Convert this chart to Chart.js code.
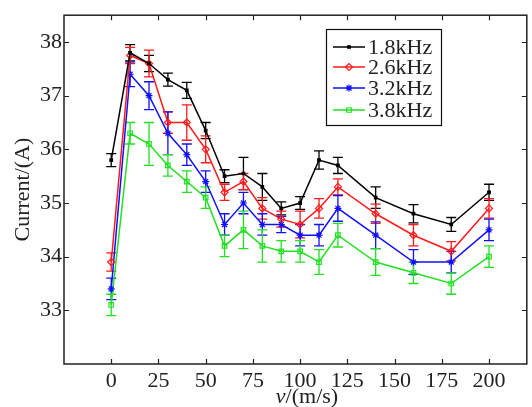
<!DOCTYPE html>
<html>
<head>
<meta charset="utf-8">
<script src="https://cdn.jsdelivr.net/npm/chart.js@4.4.1/dist/chart.umd.min.js"></script>
<style>
  html, body { margin: 0; padding: 0; background: #fff; }
  #wrap { width: 532px; height: 407px; }
</style>
</head>
<body>
<div id="wrap"><canvas id="chart" width="532" height="407"></canvas></div>
<script>
const speeds = [0, 10, 20, 30, 40, 50, 60, 70, 80, 90, 100, 110, 120, 140, 160, 180, 200];

const cur18 = [35.8, 37.8, 37.6, 37.3, 37.1, 36.35, 35.5, 35.55, 35.3, 34.9, 35.0, 35.8, 35.7, 35.1, 34.8, 34.6, 35.2];
const err18 = [0.12, 0.15, 0.15, 0.12, 0.15, 0.15, 0.12, 0.3, 0.25, 0.12, 0.12, 0.17, 0.15, 0.2, 0.17, 0.13, 0.15];

const cur26 = [33.9, 37.75, 37.6, 36.5, 36.5, 36.0, 35.2, 35.4, 34.9, 34.7, 34.6, 34.9, 35.3, 34.8, 34.4, 34.1, 34.9];
const err26 = [0.17, 0.15, 0.25, 0.2, 0.33, 0.25, 0.15, 0.15, 0.2, 0.15, 0.25, 0.18, 0.15, 0.18, 0.2, 0.18, 0.18];

const cur32 = [33.4, 37.4, 37.0, 36.3, 35.9, 35.4, 34.6, 35.0, 34.6, 34.6, 34.4, 34.4, 34.9, 34.4, 33.9, 33.9, 34.5];
const err32 = [0.2, 0.23, 0.26, 0.4, 0.2, 0.2, 0.2, 0.2, 0.2, 0.15, 0.2, 0.2, 0.24, 0.25, 0.23, 0.2, 0.2];

const cur38 = [33.1, 36.3, 36.1, 35.7, 35.4, 35.1, 34.2, 34.5, 34.2, 34.1, 34.1, 33.9, 34.4, 33.9, 33.7, 33.5, 34.0];
const err38 = [0.2, 0.2, 0.4, 0.2, 0.2, 0.2, 0.2, 0.35, 0.3, 0.2, 0.2, 0.23, 0.22, 0.25, 0.2, 0.2, 0.2];

const seriesNames = ["1.8kHz", "2.6kHz", "3.2kHz", "3.8kHz"];
const xTicks = [0, 25, 50, 75, 100, 125, 150, 175, 200];
const yTicks = [33, 34, 35, 36, 37, 38];

const FONT = "'Liberation Serif', 'Times New Roman', serif";

function pts(ys) {
  return speeds.map((x, i) => ({ x: x, y: ys[i] }));
}

function series(label, ys, errs, color, style, radius, fill) {
  return {
    label: label,
    data: pts(ys),
    errs: errs,
    borderColor: color,
    backgroundColor: fill,
    pointBackgroundColor: fill,
    pointBorderColor: color,
    pointStyle: style,
    pointRadius: radius,
    pointBorderWidth: 1.2,
    borderWidth: 1.5,
    tension: 0,
    clip: false
  };
}

const datasets = [
  series(seriesNames[0], cur18, err18, "#000000", "rect", 1.8, "#000000"),
  series(seriesNames[1], cur26, err26, "#ff1a1a", "rectRot", 3.5, "rgba(255,255,255,0)"),
  series(seriesNames[2], cur32, err32, "#1010ff", "star", 3.5, "#1010ff"),
  series(seriesNames[3], cur38, err38, "#22e022", "rect", 3.2, "rgba(255,255,255,0)")
];

// error bars under the markers
const errorBars = {
  id: "errorBars",
  beforeDatasetsDraw(chart) {
    const ctx = chart.ctx;
    const xs = chart.scales.x, ys = chart.scales.y;
    ctx.save();
    chart.data.datasets.forEach(ds => {
      ctx.strokeStyle = ds.borderColor;
      ctx.lineWidth = 1.3;
      ds.data.forEach((p, i) => {
        const e = ds.errs[i];
        const px = xs.getPixelForValue(p.x);
        const top = ys.getPixelForValue(p.y + e);
        const bot = ys.getPixelForValue(p.y - e);
        ctx.beginPath();
        ctx.moveTo(px, top); ctx.lineTo(px, bot);
        ctx.moveTo(px - 5, top); ctx.lineTo(px + 5, top);
        ctx.moveTo(px - 5, bot); ctx.lineTo(px + 5, bot);
        ctx.stroke();
      });
    });
    ctx.restore();
  }
};

// box frame, inward ticks, x title, legend
const frame = {
  id: "frame",
  afterDraw(chart) {
    const ctx = chart.ctx;
    const a = chart.chartArea;
    const xs = chart.scales.x, ys = chart.scales.y;
    ctx.save();
    ctx.strokeStyle = "#222";
    ctx.lineWidth = 1.5;
    ctx.strokeRect(a.left, a.top, a.right - a.left, a.bottom - a.top);
    ctx.lineWidth = 1.2;
    ctx.beginPath();
    xTicks.forEach(v => {
      const px = Math.round(xs.getPixelForValue(v)) + 0.5;
      ctx.moveTo(px, a.bottom); ctx.lineTo(px, a.bottom - 5);
      ctx.moveTo(px, a.top); ctx.lineTo(px, a.top + 5);
    });
    yTicks.forEach(v => {
      const py = Math.round(ys.getPixelForValue(v)) + 0.5;
      ctx.moveTo(a.left, py); ctx.lineTo(a.left + 5, py);
      ctx.moveTo(a.right, py); ctx.lineTo(a.right - 5, py);
    });
    ctx.stroke();

    // x title with italic v
    ctx.fillStyle = "#222";
    ctx.textBaseline = "alphabetic";
    const italic = "italic 22px " + FONT;
    const normal = "22px " + FONT;
    ctx.font = italic;
    const w1 = ctx.measureText("v").width;
    ctx.font = normal;
    const w2 = ctx.measureText("/(m/s)").width;
    const cx = 307;
    const by = 403;
    ctx.font = italic;
    ctx.textAlign = "left";
    ctx.fillText("v", cx - (w1 + w2) / 2, by);
    ctx.font = normal;
    ctx.fillText("/(m/s)", cx - (w1 + w2) / 2 + w1, by);

    // legend
    const lx = 326, ly = 29, lw = 115, lh = 96;
    ctx.fillStyle = "#fff";
    ctx.fillRect(lx, ly, lw, lh);
    ctx.strokeStyle = "#111";
    ctx.lineWidth = 1.2;
    ctx.strokeRect(lx + 0.5, ly + 0.5, lw, lh);
    const rows = [47, 67, 88, 110];
    chart.data.datasets.forEach((ds, i) => {
      const y = rows[i];
      ctx.strokeStyle = ds.borderColor;
      ctx.lineWidth = 1.5;
      ctx.beginPath();
      ctx.moveTo(333, y); ctx.lineTo(365, y);
      ctx.stroke();
      ctx.fillStyle = ds.pointBackgroundColor;
      ctx.lineWidth = 1.2;
      Chart.helpers.drawPoint(ctx, {
        pointStyle: ds.pointStyle,
        radius: ds.pointRadius,
        borderWidth: 1.2,
        rotation: 0
      }, 349, y);
      ctx.fillStyle = "#222";
      ctx.font = normal;
      ctx.textAlign = "left";
      ctx.textBaseline = "middle";
      ctx.fillText(ds.label, 368, y + 1);
    });
    ctx.restore();
  }
};

new Chart(document.getElementById("chart"), {
  type: "line",
  data: { datasets: datasets },
  options: {
    responsive: false,
    animation: false,
    devicePixelRatio: 1,
    layout: { padding: { top: 12, right: 2, left: 0, bottom: 0 } },
    plugins: {
      legend: { display: false },
      tooltip: { enabled: false }
    },
    scales: {
      x: {
        type: "linear",
        min: -25,
        max: 220,
        grid: { display: false, drawTicks: false },
        border: { display: false },
        afterBuildTicks: s => { s.ticks = xTicks.map(v => ({ value: v })); },
        afterFit: s => { s.height = 43; },
        ticks: {
          autoSkip: false,
          maxRotation: 0,
          padding: 4,
          color: "#222",
          font: { family: FONT, size: 22 }
        }
      },
      y: {
        min: 32,
        max: 38.5,
        grid: { display: false, drawTicks: false },
        border: { display: false },
        afterBuildTicks: s => { s.ticks = yTicks.map(v => ({ value: v })); },
        afterFit: s => { s.width = 64; },
        ticks: {
          padding: 2,
          color: "#222",
          font: { family: FONT, size: 22 }
        },
        title: {
          display: true,
          text: "Current/(A)",
          color: "#222",
          padding: { top: 10, bottom: 0 },
          font: { family: FONT, size: 22, lineHeight: 1.2 }
        }
      }
    }
  },
  plugins: [errorBars, frame]
});
</script>
</body>
</html>
